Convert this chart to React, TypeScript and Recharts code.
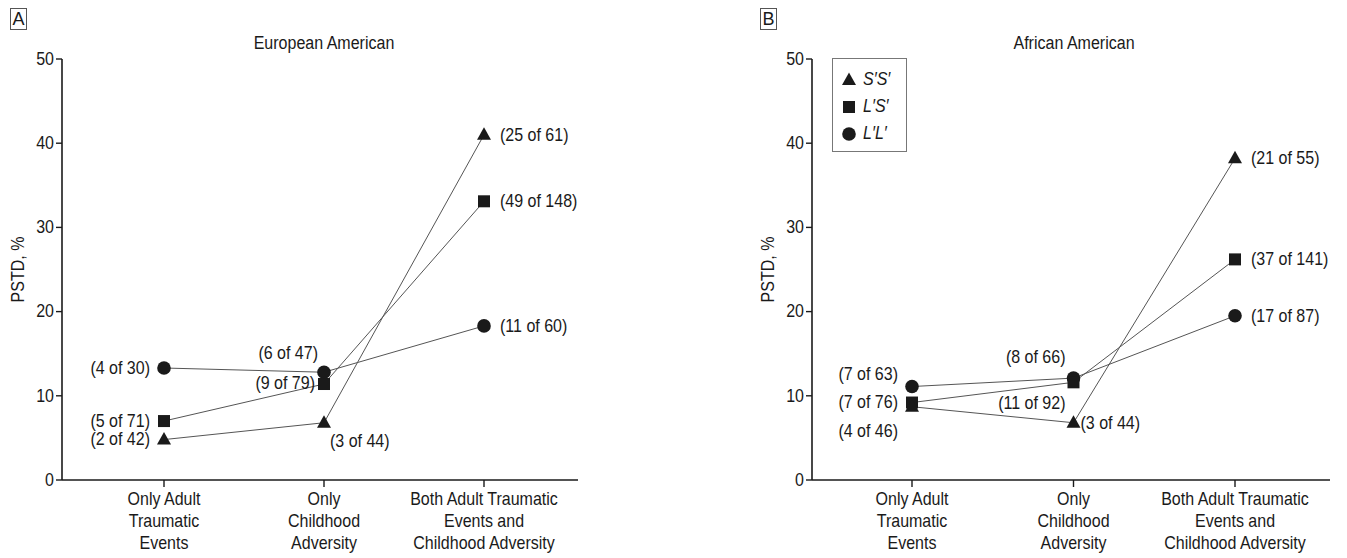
import React from 'react';
import { LineChart, Line, XAxis, YAxis, Legend, LabelList } from 'recharts';

// categories and tick labels
const categories = [
  'Only Adult Traumatic Events',
  'Only Childhood Adversity',
  'Both Adult Traumatic Events and Childhood Adversity',
];
const categoryLines = [
  ['Only Adult', 'Traumatic', 'Events'],
  ['Only', 'Childhood', 'Adversity'],
  ['Both Adult Traumatic', 'Events and', 'Childhood Adversity'],
];
const yTicks = [0, 10, 20, 30, 40, 50];
const seriesNames = ['S′S′', 'L′S′', 'L′L′'];

// European American (% PTSD)
const euroSS = [4.8, 6.8, 41.0];
const euroLS = [7.0, 11.4, 33.1];
const euroLL = [13.3, 12.8, 18.3];
const euroSSn = ['(2 of 42)', '(3 of 44)', '(25 of 61)'];
const euroLSn = ['(5 of 71)', '(9 of 79)', '(49 of 148)'];
const euroLLn = ['(4 of 30)', '(6 of 47)', '(11 of 60)'];

// African American (% PTSD)
const afrSS = [8.7, 6.8, 38.2];
const afrLS = [9.2, 11.6, 26.2];
const afrLL = [11.1, 12.1, 19.5];
const afrSSn = ['(4 of 46)', '(3 of 44)', '(21 of 55)'];
const afrLSn = ['(7 of 76)', '(11 of 92)', '(37 of 141)'];
const afrLLn = ['(7 of 63)', '(8 of 66)', '(17 of 87)'];

const FONT = "'Liberation Sans', Arial, sans-serif";
const FS = 18;
const SX = 0.89; // horizontal squeeze to mimic the condensed face
const INK = '#1a1a1a';

type Pos = { dx: number; dy: number; anchor: 'start' | 'end' };
const L = (dx: number, dy = 0): Pos => ({ dx, dy, anchor: 'end' });
const R = (dx: number, dy = 0): Pos => ({ dx, dy, anchor: 'start' });

// where each count label sits relative to its marker
const euroPlace: Record<string, Pos[]> = {
  ss: [L(-14), R(6, 18), R(16)],
  ls: [L(-14), L(-9, -1), R(16)],
  ll: [L(-14), L(-6, -19), R(16)],
};
const afrPlace: Record<string, Pos[]> = {
  ss: [L(-14, 24), R(7, 0), R(16)],
  ls: [L(-14, 0), L(-8, 21), R(16)],
  ll: [L(-14, -12), L(-8, -21), R(16)],
};

const CText = ({ x, y, anchor = 'middle', rotate = 0, children }: any) => (
  <text
    transform={`translate(${x},${y}) rotate(${rotate}) scale(${SX},1)`}
    x={0}
    y={0}
    textAnchor={anchor}
    dominantBaseline="central"
    fontFamily={FONT}
    fontSize={FS}
    fill={INK}
  >
    {children}
  </text>
);

const Marker = ({ shape, cx, cy }: { shape: string; cx: number; cy: number }) => {
  if (shape === 'triangle')
    return <path d={`M${cx},${cy - 7.5} L${cx + 7},${cy + 5} L${cx - 7},${cy + 5} Z`} fill={INK} />;
  if (shape === 'square') return <rect x={cx - 6} y={cy - 6} width={12} height={12} fill={INK} />;
  return <circle cx={cx} cy={cy} r={6.8} fill={INK} />;
};

const XTick = (props: any) => {
  const { x, y, payload } = props;
  const lines = categoryLines[payload.index] || [];
  return (
    <g>
      {lines.map((l, i) => (
        <CText key={i} x={x} y={y + 10 + i * 22}>
          {l}
        </CText>
      ))}
    </g>
  );
};

const YTick = (props: any) => {
  const { x, y, payload } = props;
  return (
    <CText x={x} y={y} anchor="end">
      {payload.value}
    </CText>
  );
};

const countLabel = (texts: string[], place: Pos[]) => (props: any) => {
  const { x, y, index } = props;
  const p = place[index];
  return (
    <CText x={x + p.dx} y={y + p.dy} anchor={p.anchor}>
      {texts[index]}
    </CText>
  );
};

const LegendBox = () => {
  const shapes = ['triangle', 'square', 'circle'];
  return (
    <div
      style={{
        width: 75,
        height: 94,
        border: '1px solid #777',
        background: '#fff',
        boxSizing: 'border-box',
        position: 'relative',
      }}
    >
      {seriesNames.map((n, i) => (
        <div key={n} style={{ position: 'absolute', left: 8, top: 10 + i * 27, height: 20, display: 'flex', alignItems: 'center' }}>
          <svg width={16} height={16}>
            <Marker shape={shapes[i]} cx={8} cy={9} />
          </svg>
          <span
            style={{
              marginLeft: 6,
              fontFamily: FONT,
              fontSize: FS,
              fontStyle: 'italic',
              color: INK,
              display: 'inline-block',
              transform: `scaleX(${SX})`,
              transformOrigin: 'left center',
            }}
          >
            {n}
          </span>
        </div>
      ))}
    </div>
  );
};

type PanelProps = {
  left: number;
  width: number;
  rightMargin: number;
  padL: number;
  padR: number;
  letter: string;
  title: string;
  ss: number[];
  ls: number[];
  ll: number[];
  ssN: string[];
  lsN: string[];
  llN: string[];
  place: Record<string, Pos[]>;
  legend?: boolean;
};

const Panel = (p: PanelProps) => {
  const rows = categories.map((c, i) => ({ cat: c, ss: p.ss[i], ls: p.ls[i], ll: p.ll[i] }));
  const axisLeft = 62;
  const plotW = p.width - axisLeft - p.rightMargin;
  const step = (plotW - p.padL - p.padR) / 2;
  const titleX = axisLeft + p.padL + step;
  return (
    <div style={{ position: 'absolute', left: p.left, top: 0, width: p.width, height: 558 }}>
      <div
        style={{
          position: 'absolute',
          left: 10,
          top: 8,
          width: 17,
          height: 22,
          border: '1px solid #555',
          boxSizing: 'border-box',
          fontFamily: FONT,
          fontSize: FS,
          lineHeight: '20px',
          textAlign: 'center',
          color: INK,
        }}
      >
        {p.letter}
      </div>
      <div
        style={{
          position: 'absolute',
          left: titleX - 150,
          width: 300,
          top: 33,
          textAlign: 'center',
          fontFamily: FONT,
          fontSize: FS,
          color: INK,
          transform: `scaleX(${SX})`,
        }}
      >
        {p.title}
      </div>
      <LineChart
        width={p.width}
        height={558}
        data={rows}
        margin={{ top: 59, right: p.rightMargin, bottom: 0, left: 0 }}
      >
        <XAxis
          dataKey="cat"
          type="category"
          height={78}
          padding={{ left: p.padL, right: p.padR }}
          stroke={INK}
          strokeWidth={1.6}
          tickSize={7}
          tickMargin={2}
          tickLine={{ stroke: INK, strokeWidth: 1.4 }}
          interval={0}
          tick={<XTick />}
        />
        <YAxis
          type="number"
          domain={[0, 50]}
          ticks={yTicks}
          width={axisLeft}
          stroke={INK}
          strokeWidth={1.6}
          tickSize={6}
          tickMargin={2}
          tickLine={{ stroke: INK, strokeWidth: 1.4 }}
          tick={<YTick />}
          label={{
            content: (lp: any) => {
              const vb = lp.viewBox || { y: 59, height: 421 };
              const cy = vb.y + vb.height / 2;
              return (
                <CText x={18} y={cy} rotate={-90}>
                  PSTD, %
                </CText>
              );
            },
          }}
        />
        {p.legend && (
          <Legend
            layout="horizontal"
            verticalAlign="middle"
            align="center"
            wrapperStyle={{ left: 82, top: 58, width: 75, height: 94 }}
            content={() => <LegendBox />}
          />
        )}
        <Line
          dataKey="ll"
          name={seriesNames[2]}
          stroke="#555"
          strokeWidth={1}
          isAnimationActive={false}
          dot={(d: any) => <Marker key={`ll-${d.index}`} shape="circle" cx={d.cx} cy={d.cy} />}
          activeDot={false}
        >
          <LabelList dataKey="ll" content={countLabel(p.llN, p.place.ll)} />
        </Line>
        <Line
          dataKey="ls"
          name={seriesNames[1]}
          stroke="#555"
          strokeWidth={1}
          isAnimationActive={false}
          dot={(d: any) => <Marker key={`ls-${d.index}`} shape="square" cx={d.cx} cy={d.cy} />}
          activeDot={false}
        >
          <LabelList dataKey="ls" content={countLabel(p.lsN, p.place.ls)} />
        </Line>
        <Line
          dataKey="ss"
          name={seriesNames[0]}
          stroke="#555"
          strokeWidth={1}
          isAnimationActive={false}
          dot={(d: any) => <Marker key={`ss-${d.index}`} shape="triangle" cx={d.cx} cy={d.cy} />}
          activeDot={false}
        >
          <LabelList dataKey="ss" content={countLabel(p.ssN, p.place.ss)} />
        </Line>
      </LineChart>
    </div>
  );
};

export default function App() {
  return (
    <div style={{ position: 'absolute', left: 0, top: 0, width: 1347, height: 558, overflow: 'hidden', background: '#fff' }}>
      <Panel
        left={0}
        width={600}
        rightMargin={22}
        padL={102}
        padR={94}
        letter="A"
        title="European American"
        ss={euroSS}
        ls={euroLS}
        ll={euroLL}
        ssN={euroSSn}
        lsN={euroLSn}
        llN={euroLLn}
        place={euroPlace}
      />
      <Panel
        left={750}
        width={597}
        rightMargin={17}
        padL={100}
        padR={95}
        letter="B"
        title="African American"
        ss={afrSS}
        ls={afrLS}
        ll={afrLL}
        ssN={afrSSn}
        lsN={afrLSn}
        llN={afrLLn}
        place={afrPlace}
        legend
      />
    </div>
  );
}
